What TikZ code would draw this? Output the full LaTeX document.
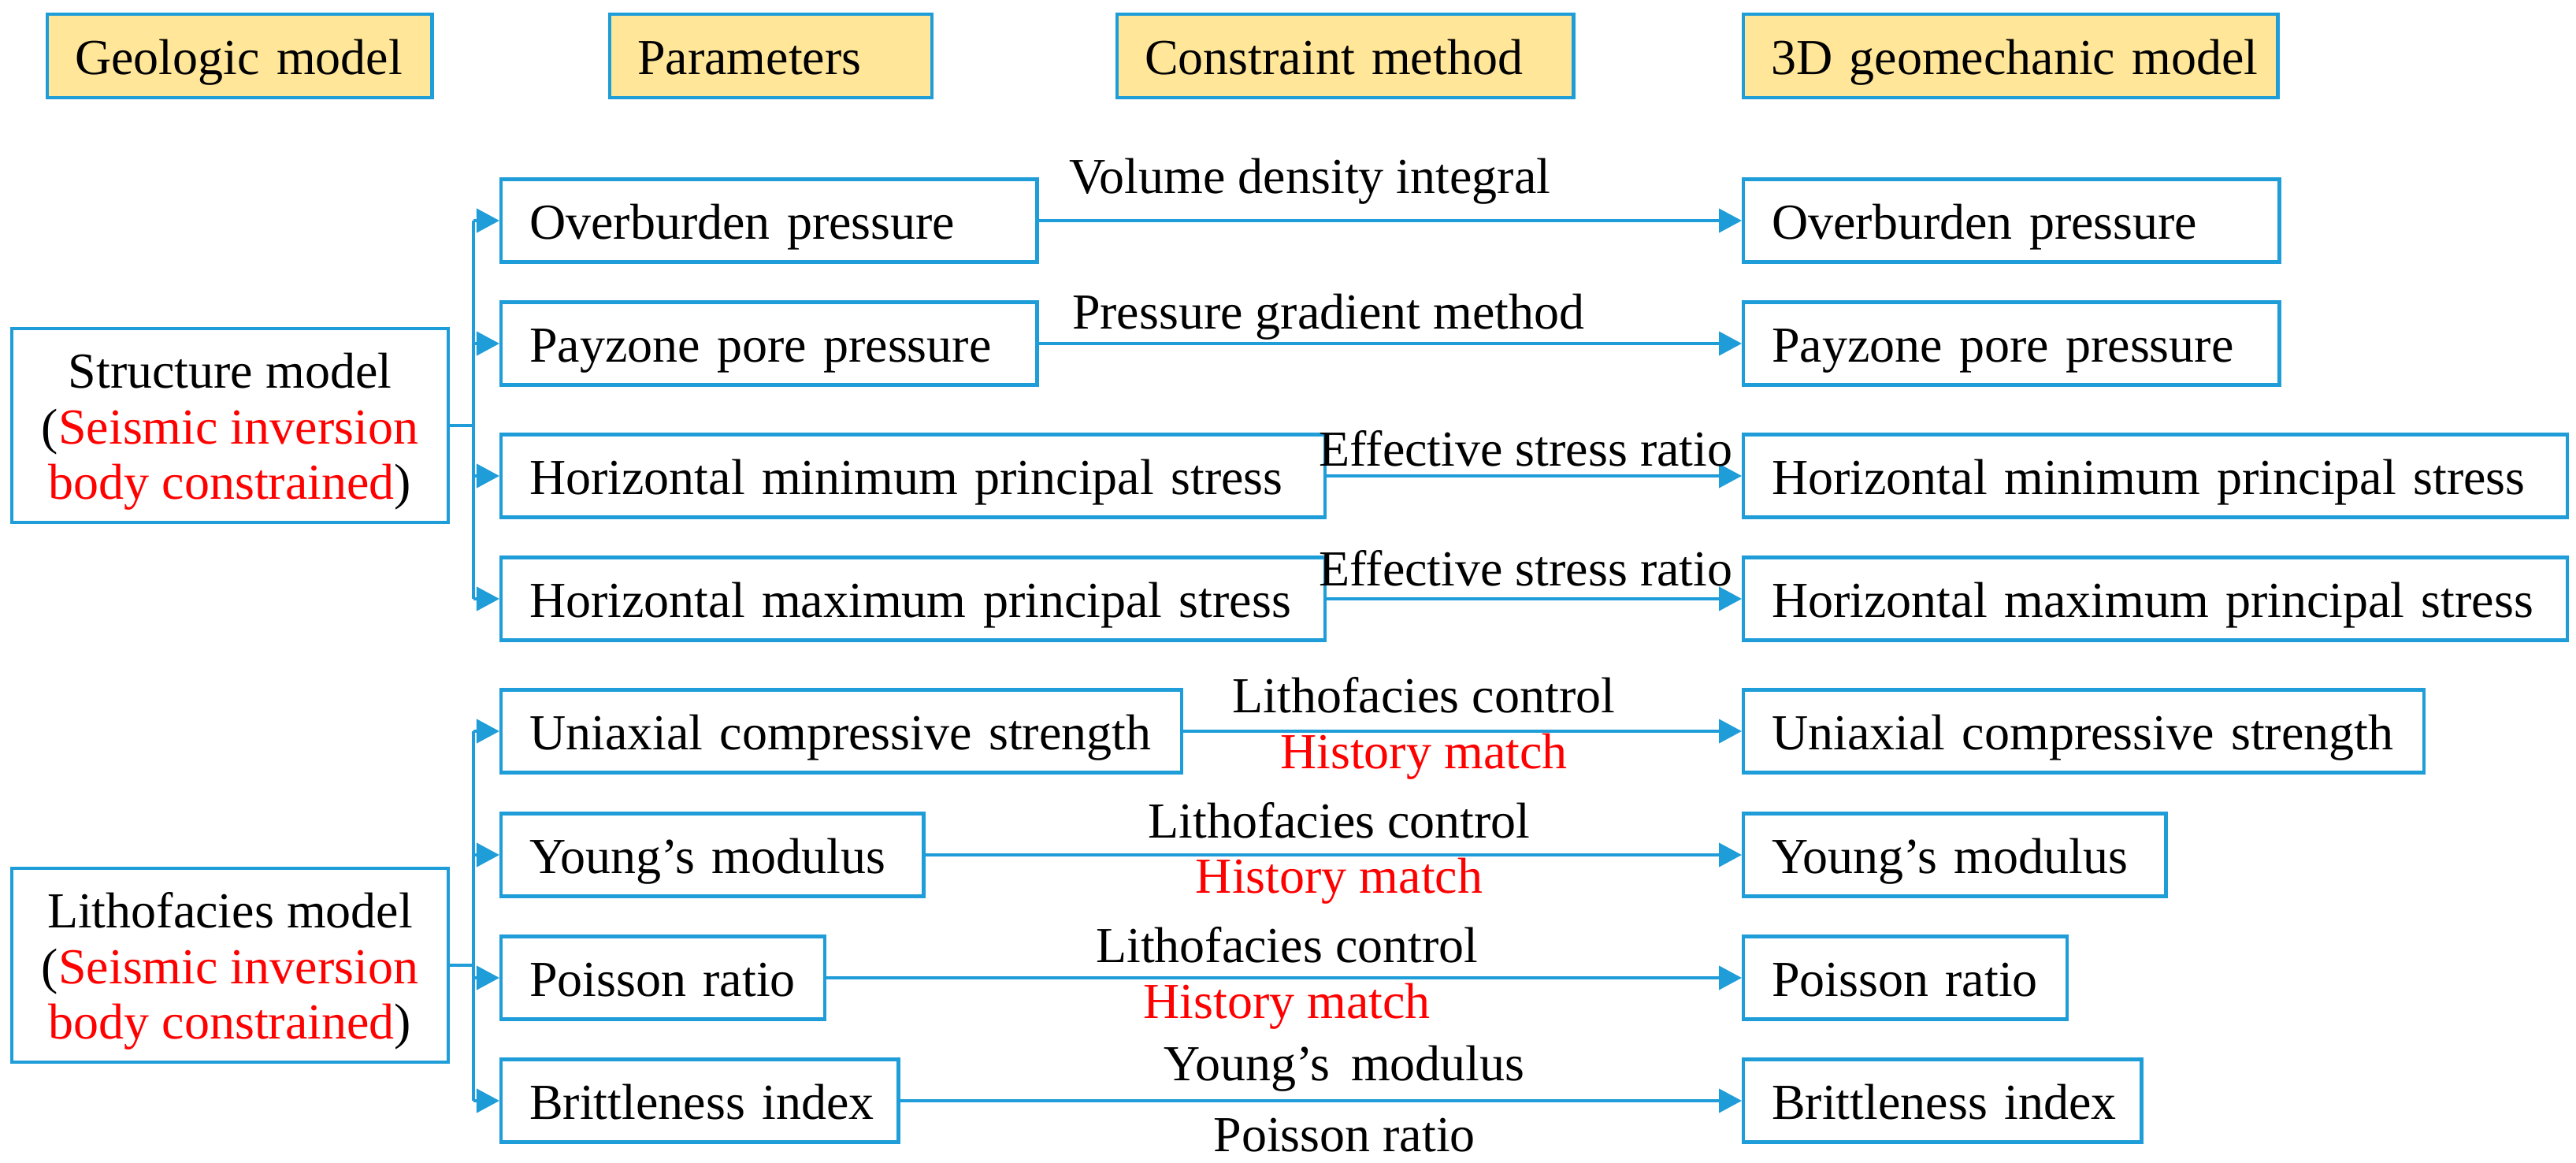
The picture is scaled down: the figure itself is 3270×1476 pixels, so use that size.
\documentclass[tikz,border=0pt]{standalone}
\usepackage{fontspec}
\setmainfont{Liberation Serif}
\usetikzlibrary{positioning, arrows.meta}
\definecolor{boxblue}{RGB}{30,157,216}
\definecolor{headfill}{RGB}{255,230,153}
\tikzset{
    oneline/.style={text width=#1, align=left, anchor=west, text height=0.56cm, text depth=0.10cm, execute at begin node={\hbox\bgroup}, execute at end node={\egroup}},
    head/.style={rectangle, draw=boxblue, fill=headfill, line width=1.2pt, minimum height=1.06cm, inner xsep=0.35cm, oneline=#1},
    param/.style={rectangle, draw=boxblue, line width=1.2pt, minimum height=1.05cm, inner xsep=0.36cm, oneline=#1},
    model/.style={rectangle, draw=boxblue, line width=1.2pt, minimum width=5.53cm, minimum height=2.46cm, align=center},
    link/.style={draw=boxblue, line width=1.2pt},
    flow/.style={link, -{Triangle[length=0.29cm, width=0.30cm]}},
    lbl/.style={anchor=base, inner sep=0pt},
}

\begin{document}
\begin{tikzpicture}[x=0.01cm, y=-0.01cm, font=\fontsize{18.2}{20}\selectfont]
        \useasboundingbox (0,0) rectangle (3270,1476);
        \node [head=4.18cm] (geo) at (58,71) {Geologic model};
        \node [head=3.39cm] (par) at (772,71) {Parameters};
        \node [head=5.09cm] (con) at (1416,71) {Constraint method};
        \node [head=6.08cm] (mod) at (2211,71) {3D geomechanic model};
        \node [model] (str) at (292,540) {\rule{0pt}{0.6cm}Structure model\\(\textcolor{red}{Seismic inversion}\\\textcolor{red}{body constrained})};
        \node [model] (lit) at (292,1225) {\rule{0pt}{0.6cm}Lithofacies model\\(\textcolor{red}{Seismic inversion}\\\textcolor{red}{body constrained})};
        \node [param=6.08cm] (ob) at (634,280) {Overburden pressure};
        \node [param=6.08cm] (pz) at (634,436) {Payzone pore pressure};
        \node [param=9.73cm] (hmin) at (634,604) {Horizontal minimum principal stress};
        \node [param=9.73cm] (hmax) at (634,760) {Horizontal maximum principal stress};
        \node [param=7.91cm] (ucs) at (634,928) {Uniaxial compressive strength};
        \node [param=4.64cm] (ym) at (634,1085) {Young’s modulus};
        \node [param=3.39cm] (pr) at (634,1241) {Poisson ratio};
        \node [param=4.32cm] (bi) at (634,1397) {Brittleness index};
        \node [param=6.08cm] (ob3) at (2211,280) {Overburden pressure};
        \node [param=6.08cm] (pz3) at (2211,436) {Payzone pore pressure};
        \node [param=9.73cm] (hmin3) at (2211,604) {Horizontal minimum principal stress};
        \node [param=9.73cm] (hmax3) at (2211,760) {Horizontal maximum principal stress};
        \node [param=7.91cm] (ucs3) at (2211,928) {Uniaxial compressive strength};
        \node [param=4.64cm] (ym3) at (2211,1085) {Young’s modulus};
        \node [param=3.39cm] (pr3) at (2211,1241) {Poisson ratio};
        \node [param=4.33cm] (bi3) at (2211,1397) {Brittleness index};
        \coordinate (sj) at (601,540);
        \coordinate (lj) at (601,1225);
        \draw[link] (str.east) -- (sj);
        \draw[link] (lit.east) -- (lj);
        \draw[link] (sj |- ob) -- (sj |- hmax);
        \draw[link] (lj |- ucs) -- (lj |- bi);
        \draw[flow] (sj |- ob) -- (ob.west);
        \draw[flow] (sj |- pz) -- (pz.west);
        \draw[flow] (sj |- hmin) -- (hmin.west);
        \draw[flow] (sj |- hmax) -- (hmax.west);
        \draw[flow] (lj |- ucs) -- (ucs.west);
        \draw[flow] (lj |- ym) -- (ym.west);
        \draw[flow] (lj |- pr) -- (pr.west);
        \draw[flow] (lj |- bi) -- (bi.west);
        \draw[flow] (ob) -- (ob3) node[lbl, pos=0.386, yshift=0.34cm] (vdi) {Volume density integral};
        \draw[flow] (pz) -- (pz3) node[lbl, pos=0.412, yshift=0.18cm] (pgm) {Pressure gradient method};
        \draw[flow] (hmin) -- (hmin3) node[lbl, pos=0.48, yshift=0.12cm] (esr) {Effective stress ratio};
        \draw[flow] (hmax) -- (hmax3) node[lbl, pos=0.48, yshift=0.16cm] (esr2) {Effective stress ratio};
        \draw[flow] (ucs) -- (ucs3) node[lbl, pos=0.431, yshift=0.23cm] (lc) {Lithofacies control}
            node[lbl, pos=0.431, yshift=-0.47cm, red] (hm) {History match};
        \draw[flow] (ym) -- (ym3) node[lbl, pos=0.507, yshift=0.22cm] (lc2) {Lithofacies control}
            node[lbl, pos=0.507, yshift=-0.48cm, red] (hm2) {History match};
        \draw[flow] (pr) -- (pr3) node[lbl, pos=0.503, yshift=0.20cm] (lc3) {Lithofacies control}
            node[lbl, pos=0.503, yshift=-0.51cm, red] (hm3) {History match};
        \draw[flow] (bi) -- (bi3) node[lbl, pos=0.528, yshift=0.26cm] (yml) {Young’s\, modulus}
            node[lbl, pos=0.528, yshift=-0.64cm] (prl) {Poisson ratio};
    \end{tikzpicture}
\end{document}
